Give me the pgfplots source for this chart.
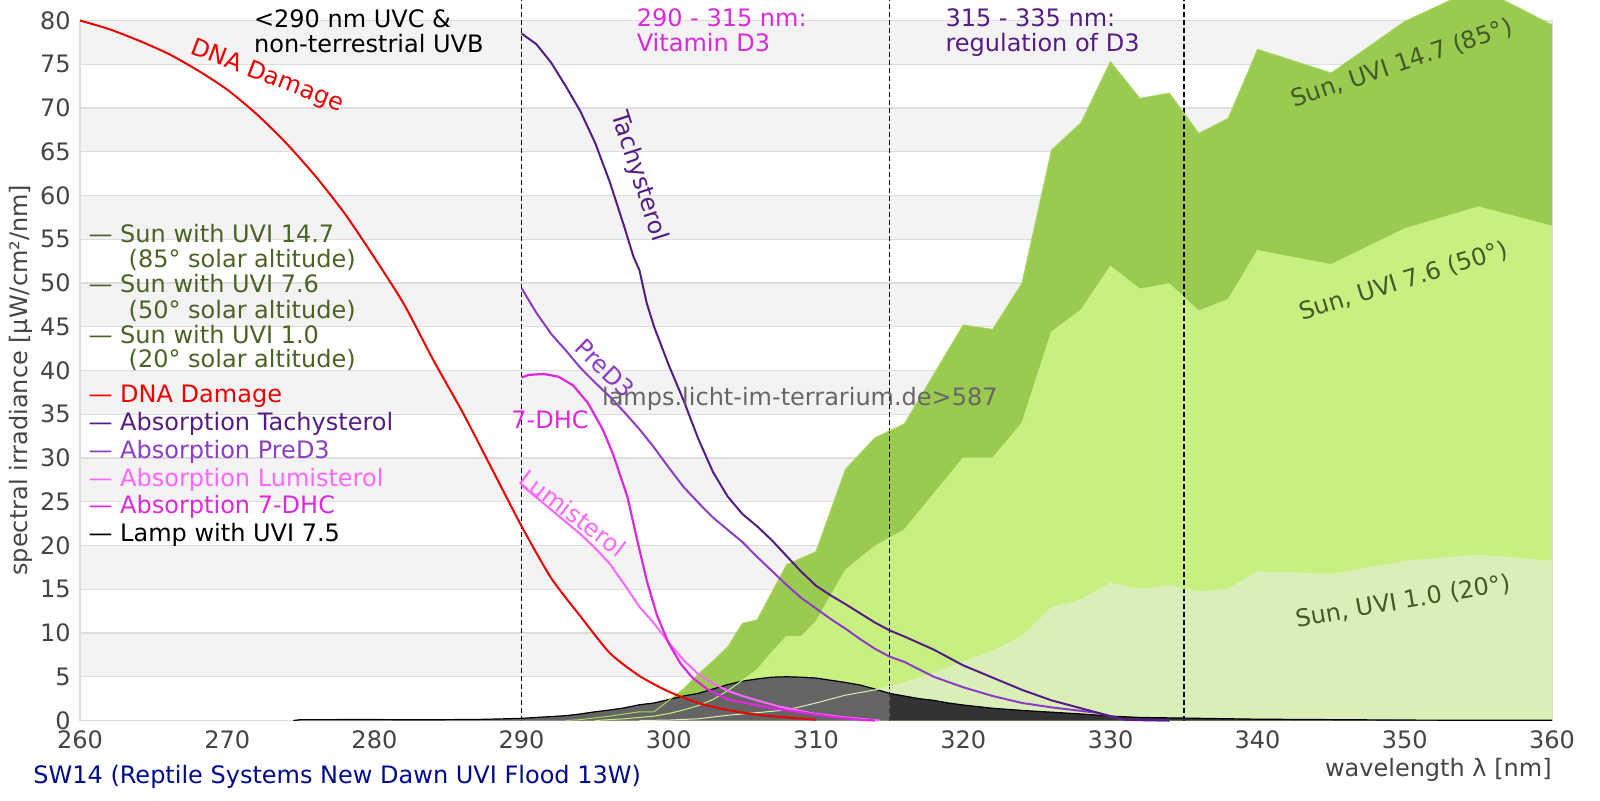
\documentclass[border=0pt]{standalone}
\usepackage{fontspec}
\setmainfont{DejaVu Sans}
\usepackage{pgfplots}
\pgfplotsset{compat=1.18}
\usepackage{pgfplotstable}

\definecolor{sunA}{HTML}{9ACB50}
\definecolor{sunB}{HTML}{C8F080}
\definecolor{sunC}{HTML}{DAEFB8}
\definecolor{band}{HTML}{F3F3F3}
\definecolor{gridc}{HTML}{DDDDDD}
\definecolor{lampA}{HTML}{646464}
\definecolor{lampB}{HTML}{333333}
\definecolor{olive}{HTML}{4A6324}
\definecolor{olivelab}{HTML}{44592A}
\definecolor{dna}{HTML}{EE0000}
\definecolor{tachy}{HTML}{561C86}
\definecolor{pred}{HTML}{8C3CC8}
\definecolor{lumi}{HTML}{FF66FF}
\definecolor{dhc}{HTML}{DD28DD}
\definecolor{txtgray}{HTML}{444444}
\definecolor{wmgray}{HTML}{666666}
\definecolor{navyc}{HTML}{000A8C}

\pgfplotstableread{
x y
293 0
294 0.1
296 0.5
298 1.0
299 1.0
300 2.3
301 3.6
302 5.3
303 6.8
304 8.4
305 11.1
306 11.5
308 17.8
310 19.3
312 28.7
314 32.3
316 33.9
320 45.2
322 44.7
324 50.0
326 65.2
328 68.3
330 75.3
332 71.1
334 71.7
336 67.1
338 68.8
340 76.7
345 74.0
350 79.9
355 83.8
360 79.5
}\sunAtab

\pgfplotstableread{
x y
295 0
297 0.2
299 0.5
300 0.8
301 1.2
302 1.7
303 2.4
304 3.4
305 4.6
306 5.8
307 7.8
308 9.6
309 9.6
310 11.3
312 17.2
314 19.9
316 21.8
320 30.0
322 30.0
324 34.0
326 44.4
328 46.9
330 51.9
332 49.3
334 49.9
336 46.8
338 48.1
340 53.7
345 52.1
350 56.2
355 58.7
360 56.5
}\sunBtab

\pgfplotstableread{
x y
298 0
300 0.05
302 0.2
304 0.6
306 0.9
308 1.2
310 2.0
312 2.9
314 3.5
316 4.3
318 5.4
320 6.7
322 7.9
324 9.6
326 12.9
328 13.8
330 15.7
332 15.0
334 15.4
336 14.7
338 15.0
340 17.0
345 16.7
350 18.2
355 18.9
360 18.2
}\sunCtab

\pgfplotstableread{
x y
274.5 0
275 0.1
277 0.1
279 0.12
281 0.1
283 0.08
285 0.1
287 0.12
289 0.2
290 0.25
291 0.35
292 0.45
293 0.55
294 0.75
295 1.0
296 1.2
297 1.45
298 1.8
299 2.0
300 2.4
301 2.8
302 3.1
303 3.6
304 4.1
305 4.5
306 4.75
307 4.95
308 5.0
309 4.95
310 4.85
311 4.6
312 4.35
313 4.05
314 3.6
315 3.1
}\lampAtab

\pgfplotstableread{
x y
315 3.1
316 2.8
317 2.5
318 2.3
319 2.0
320 1.77
322 1.4
324 1.15
326 0.95
328 0.75
330 0.5
332 0.35
334 0.3
336 0.25
338 0.2
340 0.15
345 0.1
350 0.05
355 0.03
360 0.02
}\lampBtab

\pgfplotstableread{
x y
260 80.0
262 79.0
264 77.7
266 76.2
268 74.3
270 72.1
272 69.3
274 66.0
276 62.2
278 57.9
280 52.9
282 47.6
284 41.2
286 35.2
288 28.7
290 22.2
292 16.3
294 11.9
296 7.7
298 5.1
300 3.3
302 2.0
304 1.2
306 0.65
308 0.35
310 0.1
}\dnatab

\pgfplotstableread{
x y
290 78.5
291 77.3
292 75.2
293 72.5
294 69.6
295 66.0
296 61.5
297 56.3
297.6 53.0
298 51.5
298.5 47.7
299 45.0
300 40.6
301 36.6
302 32.2
303 28.4
304 25.6
305 23.6
306 22.2
307 20.6
308 18.8
309 17.0
310 15.4
311 14.3
312 13.3
313 12.25
314 11.2
315 10.3
316 9.6
318 8.1
320 6.3
322 4.9
324 3.5
326 2.3
328 1.4
330 0.5
331 0.1
334 0
}\tachytab

\pgfplotstableread{
x y
290 49.4
291 46.6
292 44.2
293 42.3
294 40.3
295 38.6
296 37.0
297 35.2
298 33.3
299 31.2
300 28.9
301 26.7
302 24.9
303 23.2
304 21.8
305 20.4
306 18.7
307 17.1
308 15.5
309 14.0
310 12.8
311 11.6
312 10.5
313 9.3
314 8.2
315 7.3
316 6.7
318 5.0
320 3.8
322 2.8
324 2.0
326 1.5
328 1.1
329 0.9
330 0.5
331 0.05
334 0
}\predtab

\pgfplotstableread{
x y
290 39.2
290.5 39.5
291.5 39.6
292.5 39.3
293.5 38.3
294.5 36.3
295.5 33.3
296.2 30.5
296.8 27.5
297.2 25.5
297.8 21.0
298.5 16.0
299.2 12.0
300 8.8
300.8 6.5
301.6 4.9
302.6 3.6
304 2.4
305.5 1.9
307 1.4
308.7 1.0
310.9 0.45
313.2 0.06
314 0
}\dhctab

\pgfplotstableread{
x y
290 26.9
291 25.5
292 24.1
293 22.7
294 21.3
295 19.7
296 17.9
297 15.5
298 13.0
299 11.1
300 8.9
301 6.9
302 5.3
303 4.25
304 3.4
305 2.8
306 2.3
307.5 1.6
309.8 0.8
312 0.36
314.3 0
}\lumitab

\begin{document}
\fontsize{12}{12.8}\selectfont
\begin{tikzpicture}
\begin{axis}[
  scale only axis, width=736pt, height=350pt,
  xmin=260, xmax=360, ymin=0, ymax=80, clip=false,
  xtick={260,270,...,360}, ytick={0,5,...,80},
  major tick length=0pt,
  axis line style={draw=gridc},
  tick label style={text=txtgray},
  /pgf/number format/assume math mode=true,
  /pgf/number format/1000 sep={},
  xticklabel style={anchor=base, yshift=-13.9pt},
  yticklabel style={anchor=east, inner sep=0pt, xshift=-4.5pt},
]
\coordinate (SW) at (rel axis cs:0,0);
\coordinate (NE) at (rel axis cs:1,1);
% bands
\fill[band] (axis cs:260,75) rectangle (axis cs:360,80);
\fill[band] (axis cs:260,65) rectangle (axis cs:360,70);
\fill[band] (axis cs:260,55) rectangle (axis cs:360,60);
\fill[band] (axis cs:260,45) rectangle (axis cs:360,50);
\fill[band] (axis cs:260,35) rectangle (axis cs:360,40);
\fill[band] (axis cs:260,25) rectangle (axis cs:360,30);
\fill[band] (axis cs:260,15) rectangle (axis cs:360,20);
\fill[band] (axis cs:260,5) rectangle (axis cs:360,10);
\pgfplotsinvokeforeach{0,5,10,15,20,25,30,35,40,45,50,55,60,65,70,75,80}{
  \draw[gridc, line width=0.6pt] (axis cs:260,#1) -- (axis cs:360,#1);
}
\draw[gridc, line width=0.6pt] (axis cs:260,0) -- (axis cs:260,80);
\draw[gridc, line width=0.6pt] (axis cs:360,0) -- (axis cs:360,80);

% sun areas
\addplot[fill=sunA, draw=none] table[x=x,y=y] {\sunAtab} \closedcycle;
\addplot[fill=sunB, draw=none] table[x=x,y=y] {\sunBtab} \closedcycle;
\addplot[fill=sunC, draw=none] table[x=x,y=y] {\sunCtab} \closedcycle;

% region borders
\addplot[black, line width=0.6pt, dash pattern=on 2.5pt off 1.5pt] coordinates {(290,0) (290,83)};
\addplot[black, line width=0.6pt, dash pattern=on 2.5pt off 1.5pt] coordinates {(315,0) (315,83)};
\addplot[black, line width=0.6pt, dash pattern=on 2.5pt off 1.5pt] coordinates {(335,0) (335,83)};

% lamp
\addplot[fill=lampA, draw=none] table[x=x,y=y] {\lampAtab} \closedcycle;
\addplot[fill=lampB, draw=none] table[x=x,y=y] {\lampBtab} \closedcycle;
\addplot[black, line width=0.6pt] table[x=x,y=y] {\lampAtab};
\addplot[black, line width=0.6pt] table[x=x,y=y] {\lampBtab};

% thin sun lines over the lamp
\addplot[sunA!70!sunB, line width=0.5pt] table[x=x,y=y] {\sunAtab};
\addplot[sunB, line width=0.5pt] table[x=x,y=y] {\sunBtab};
\addplot[sunC, line width=0.5pt] table[x=x,y=y] {\sunCtab};

% curves
\addplot[dna, line width=1pt, smooth, tension=0.4] table[x=x,y=y] {\dnatab};
\addplot[lumi, line width=1pt] table[x=x,y=y] {\lumitab};
\addplot[dhc, line width=1.1pt] table[x=x,y=y] {\dhctab};
\addplot[pred, line width=1pt] table[x=x,y=y] {\predtab};
\addplot[tachy, line width=1pt] table[x=x,y=y] {\tachytab};

% curve labels
\node[text=dna, rotate=-21] at (axis cs:272.7,73.6) {DNA Damage};
\node[text=tachy, rotate=-72] at (axis cs:297.96,62.15) {Tachysterol};
\node[text=pred, rotate=-44] at (axis cs:295.67,40.25) {PreD3};
\node[text=dhc] at (axis cs:291.93,34.34) {7-DHC};
\node[text=lumi, rotate=-37] at (axis cs:293.5,23.7) {Lumisterol};
\node[text=wmgray, anchor=base west, inner sep=0pt] at (axis cs:295.44,36.0) {lamps.licht-im-terrarium.de>587};

% sun labels
\node[text=olivelab, rotate=18.6] at (axis cs:349.8,75.1) {Sun, UVI 14.7 (85°)};
\node[text=olivelab, rotate=17.2] at (axis cs:349.9,50.2) {Sun, UVI 7.6 (50°)};
\node[text=olivelab, rotate=9.7] at (axis cs:349.9,13.6) {Sun, UVI 1.0 (20°)};

% region annotations
\node[anchor=base west, inner sep=0pt, text=black] at (axis cs:271.8,79.2) {<290 nm UVC \&};
\node[anchor=base west, inner sep=0pt, text=black] at (axis cs:271.8,76.4) {non-terrestrial UVB};
\node[anchor=base west, inner sep=0pt, text=dhc] at (axis cs:297.8,79.3) {290 - 315 nm:};
\node[anchor=base west, inner sep=0pt, text=dhc] at (axis cs:297.8,76.5) {Vitamin D3};
\node[anchor=base west, inner sep=0pt, text=tachy] at (axis cs:318.77,79.3) {315 - 335 nm:};
\node[anchor=base west, inner sep=0pt, text=tachy] at (axis cs:318.77,76.5) {regulation of D3};

% legend text
\node[anchor=base west, inner sep=0pt, text=olive] at (axis cs:260.56,54.6) {— Sun with UVI 14.7};
\node[anchor=base west, inner sep=0pt, text=olive] at (axis cs:263.28,51.75) {(85° solar altitude)};
\node[anchor=base west, inner sep=0pt, text=olive] at (axis cs:260.56,48.9) {— Sun with UVI 7.6};
\node[anchor=base west, inner sep=0pt, text=olive] at (axis cs:263.28,46.0) {(50° solar altitude)};
\node[anchor=base west, inner sep=0pt, text=olive] at (axis cs:260.56,43.1) {— Sun with UVI 1.0};
\node[anchor=base west, inner sep=0pt, text=olive] at (axis cs:263.28,40.3) {(20° solar altitude)};
\node[anchor=base west, inner sep=0pt, text=dna] at (axis cs:260.56,36.4) {— DNA Damage};
\node[anchor=base west, inner sep=0pt, text=tachy] at (axis cs:260.56,33.2) {— Absorption Tachysterol};
\node[anchor=base west, inner sep=0pt, text=pred] at (axis cs:260.56,30.0) {— Absorption PreD3};
\node[anchor=base west, inner sep=0pt, text=lumi] at (axis cs:260.56,26.8) {— Absorption Lumisterol};
\node[anchor=base west, inner sep=0pt, text=dhc] at (axis cs:260.56,23.7) {— Absorption 7-DHC};
\node[anchor=base west, inner sep=0pt, text=black] at (axis cs:260.56,20.5) {— Lamp with UVI 7.5};

% axis labels and footer
\node[rotate=90, text=txtgray, anchor=center] at ([xshift=-29.5pt]axis cs:260,38.9) {spectral irradiance [µW/cm²/nm]};
\node[anchor=base east, inner sep=0pt, text=txtgray] at ([yshift=-28.1pt]rel axis cs:1,0) {wavelength λ [nm]};
\node[anchor=base west, inner sep=0pt, text=navyc] at ([xshift=-23.5pt,yshift=-31.4pt]rel axis cs:0,0) {SW14 (Reptile Systems New Dawn UVI Flood 13W)};
\end{axis}
\pgfresetboundingbox
\path[use as bounding box] ([xshift=-40pt,yshift=-39.75pt]SW) rectangle ([xshift=24pt,yshift=10.25pt]NE);
\end{tikzpicture}
\end{document}
